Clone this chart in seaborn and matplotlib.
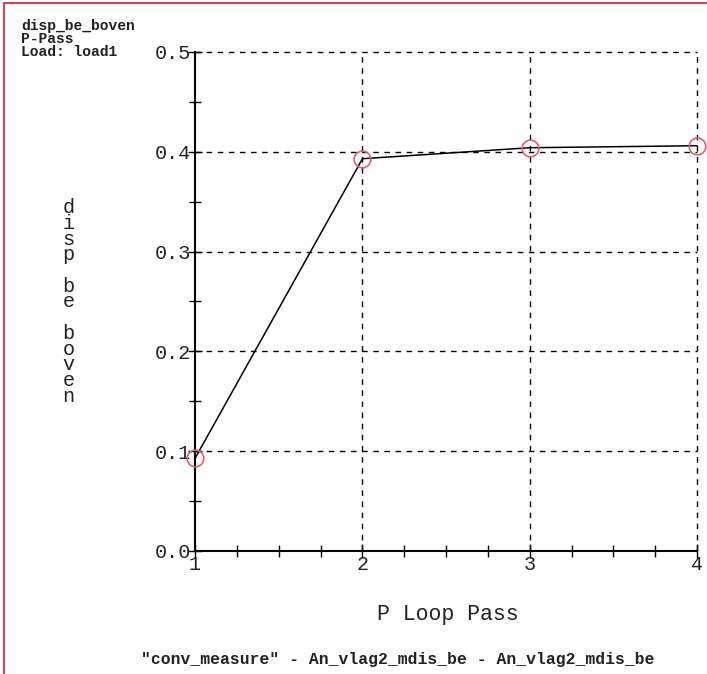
import matplotlib
matplotlib.use("Agg")
import matplotlib.pyplot as plt
from matplotlib.ticker import MultipleLocator
import seaborn as sns
import pandas as pd

# Convergence data: displacement per P-loop pass
passes = [1, 2, 3, 4]
disp_values = [0.093, 0.393, 0.404, 0.406]
x_ticks = [1, 2, 3, 4]
y_ticks = [0.0, 0.1, 0.2, 0.3, 0.4, 0.5]
y_tick_labels = ["0.0", "0.1", "0.2", "0.3", "0.4", "0.5"]
header_lines = ["disp_be_boven", "P-Pass", "Load: load1"]
y_label = "disp be boven"
x_label = "P Loop Pass"
caption = '"conv_measure" - An_vlag2_mdis_be - An_vlag2_mdis_be'

sns.set_theme(style="white")
plt.rcParams["font.family"] = ["Liberation Mono", "DejaVu Sans Mono"]

df = pd.DataFrame({"pass": passes, "disp": disp_values})

fig = plt.figure(figsize=(7.07, 6.74), dpi=100)
ax = fig.add_axes([0.276, 0.1825, 0.710, 0.7405])

sns.lineplot(data=df, x="pass", y="disp", ax=ax, color="black", linewidth=1.1,
             marker="o", markersize=12, markerfacecolor="none",
             markeredgecolor="#e0606e", markeredgewidth=1.2, clip_on=False,
             zorder=5)

ax.set_xlim(1, 4)
ax.set_ylim(0, 0.5)
ax.set_xticks(x_ticks)
ax.set_xticklabels([str(t) for t in x_ticks])
ax.set_yticks(y_ticks)
ax.set_yticklabels(y_tick_labels)
ax.xaxis.set_minor_locator(MultipleLocator(0.25))
ax.yaxis.set_minor_locator(MultipleLocator(0.05))
ax.tick_params(axis="both", which="major", direction="inout", length=10,
               width=1.0, color="black", labelsize=14.5, labelcolor="#222222")
ax.tick_params(axis="both", which="minor", direction="inout", length=8,
               width=1.0, color="black")
ax.tick_params(axis="x", which="major", pad=-2)
ax.tick_params(axis="y", which="major", pad=-2)
ax.tick_params(left=True, bottom=True, which="both")

# dashed grid at major positions, including top and right edges
for x in x_ticks[1:]:
    ax.axvline(x, color="black", linestyle=(0, (4, 4)), linewidth=1.0,
               zorder=0, clip_on=False)
for y in y_ticks[1:]:
    ax.axhline(y, color="black", linestyle=(0, (4, 4)), linewidth=1.0,
               zorder=0, clip_on=False)

for side in ["top", "right"]:
    ax.spines[side].set_visible(False)
for side in ["left", "bottom"]:
    ax.spines[side].set_color("black")
    ax.spines[side].set_linewidth(1.5)

ax.set_xlabel("")
ax.set_ylabel("")

# header text
fig.text(0.030, 0.972, "\n".join(header_lines), fontsize=10.5, fontweight="bold",
         va="top", ha="left", color="#222222", linespacing=0.9)

# vertical stacked axis label
stacked = "\n".join(" " if c == " " else c for c in y_label)
fig.text(0.097, 0.552, stacked, fontsize=14.5, ha="center", va="center",
         color="#222222", linespacing=0.78)

fig.text(0.634, 0.089, x_label, fontsize=15.5, ha="center", va="center",
         color="#222222")
fig.text(0.562, 0.021, caption, fontsize=11.8, fontweight="bold",
         ha="center", va="center", color="#222222")

# red frame on left and top edges
fig.add_artist(plt.Line2D([0.006, 0.006], [0.0, 0.996], color="#d04858",
                          linewidth=1.5, transform=fig.transFigure))
fig.add_artist(plt.Line2D([0.006, 1.0], [0.996, 0.996], color="#d04858",
                          linewidth=1.5, transform=fig.transFigure))

fig.savefig("out.png", dpi=100, facecolor="white")
